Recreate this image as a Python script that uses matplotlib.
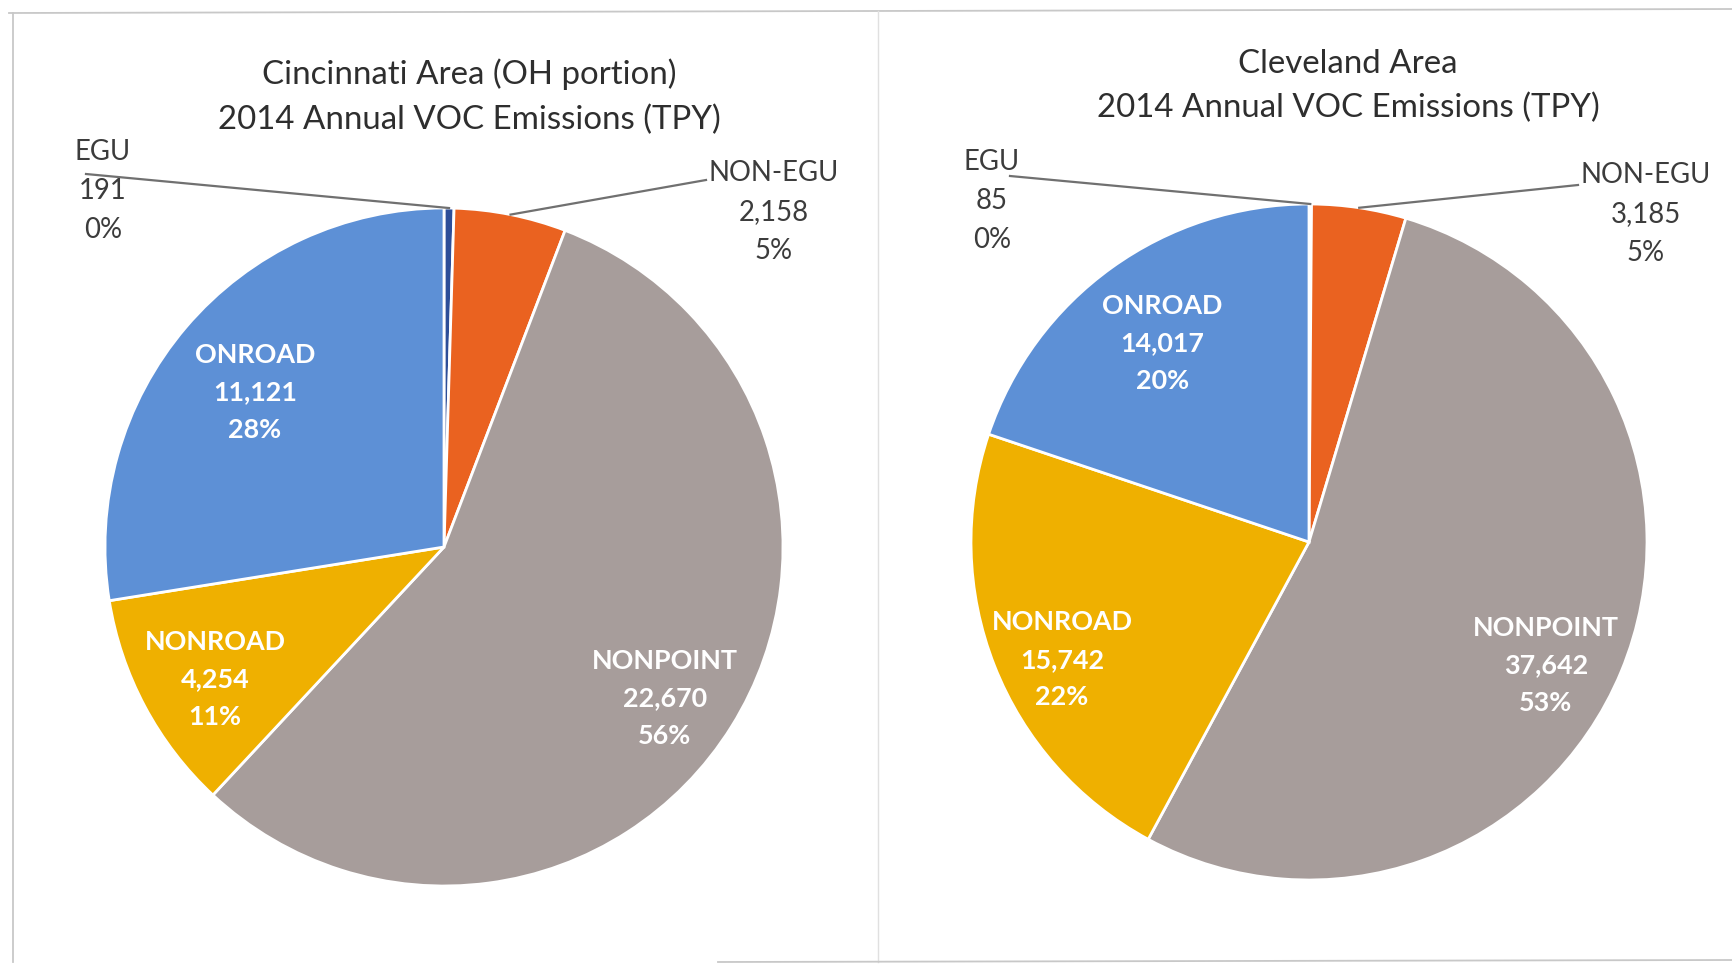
import numpy as np
import matplotlib
matplotlib.use("Agg")
import matplotlib.pyplot as plt

# ---------------- data ------------------------------------------------------
categories = ["EGU", "NON-EGU", "NONPOINT", "NONROAD", "ONROAD"]
cincinnati_tpy = [191, 2158, 22670, 4254, 11121]
cleveland_tpy = [85, 3185, 37642, 15742, 14017]
cincinnati_title = "Cincinnati Area (OH portion)\n2014 Annual VOC Emissions (TPY)"
cleveland_title = "Cleveland Area\n2014 Annual VOC Emissions (TPY)"

# ---------------- style / layout ---------------------------------------------
W, H = 1733, 965
colors = ["#2d4e98", "#ea6220", "#a79d9b", "#efb000", "#5d90d6"]
FONT = ["Lato", "DejaVu Sans"]
TEXT_GRAY = "#3c3c3c"

# pie centre / radius in pixels, title position, inside label (radius, angle shift)
panels = [
    dict(values=cincinnati_tpy, title=cincinnati_title, cx=444, cy=547, R=339,
         title_xy=(469, 97),
         inside={2: (0.79, -2.5), 3: (0.78, 2.0), 4: (0.72, 1.2)},
         outside={0: (103, 191, 86, 174), 1: (774, 212, 706, 180)}),
    dict(values=cleveland_tpy, title=cleveland_title, cx=1309, cy=542, R=338,
         title_xy=(1348, 86),
         inside={2: (0.79, -5.0), 3: (0.81, 4.0), 4: (0.73, 0.7)},
         outside={0: (992, 201, 1010, 176), 1: (1646, 214, 1578, 185)}),
]

fig = plt.figure(figsize=(W / 100, H / 100), dpi=100)
fig.patch.set_facecolor("white")

# overlay axis in pixel coordinates for frame, titles and labels
ov = fig.add_axes([0, 0, 1, 1], zorder=5)
ov.set_xlim(0, W)
ov.set_ylim(H, 0)
ov.axis("off")
ov.patch.set_alpha(0)

# faint panel borders (scanned page look)
frame_kw = dict(color="#c8c8c8", lw=1.3)
ov.plot([9, W], [13, 9], **frame_kw)
ov.plot([13, 13], [13, 962], **frame_kw)
ov.plot([878, 878], [11, 962], color="#e0e0e0", lw=1.0)
ov.plot([718, W], [962, 960], **frame_kw)


def fmt(v, total):
    return f"{v:,}\n{round(100 * v / total):.0f}%"


for p in panels:
    cx, cy, R = p["cx"], p["cy"], p["R"]
    vals = p["values"]
    total = sum(vals)
    ax = fig.add_axes([(cx - R) / W, (H - cy - R) / H, 2 * R / W, 2 * R / H])
    wedges, _ = ax.pie(vals, colors=colors, startangle=90, counterclock=False,
                       radius=1.0,
                       wedgeprops=dict(edgecolor="white", linewidth=2.0))
    ax.set_xlim(-1, 1)
    ax.set_ylim(-1, 1)
    ax.axis("off")

    ov.text(p["title_xy"][0], p["title_xy"][1], p["title"], ha="center",
            va="center", fontsize=23.8, color="#2e2e2e", family=FONT,
            linespacing=1.58)

    # labels inside the wedges
    for i, (rf, shift) in p["inside"].items():
        w = wedges[i]
        ang = np.deg2rad((w.theta1 + w.theta2) / 2 + shift)
        x = cx + R * rf * np.cos(ang)
        y = cy - R * rf * np.sin(ang)
        ov.text(x, y, categories[i] + "\n" + fmt(vals[i], total), ha="center",
                va="center", fontsize=19.4, fontweight="bold", color="white",
                family=FONT, linespacing=1.68)

    # labels outside with leader lines
    for i, (lx, ly, sx, sy) in p["outside"].items():
        w = wedges[i]
        ang = np.deg2rad((w.theta1 + w.theta2) / 2)
        ex = cx + R * np.cos(ang)
        ey = cy - R * np.sin(ang)
        ov.plot([sx, ex], [sy, ey], color="#707070", lw=1.6)
        ov.text(lx, ly, categories[i] + "\n" + fmt(vals[i], total), ha="center",
                va="center", fontsize=19.8, color=TEXT_GRAY, family=FONT,
                linespacing=1.64)

fig.savefig("out.png", dpi=100, facecolor="white")
